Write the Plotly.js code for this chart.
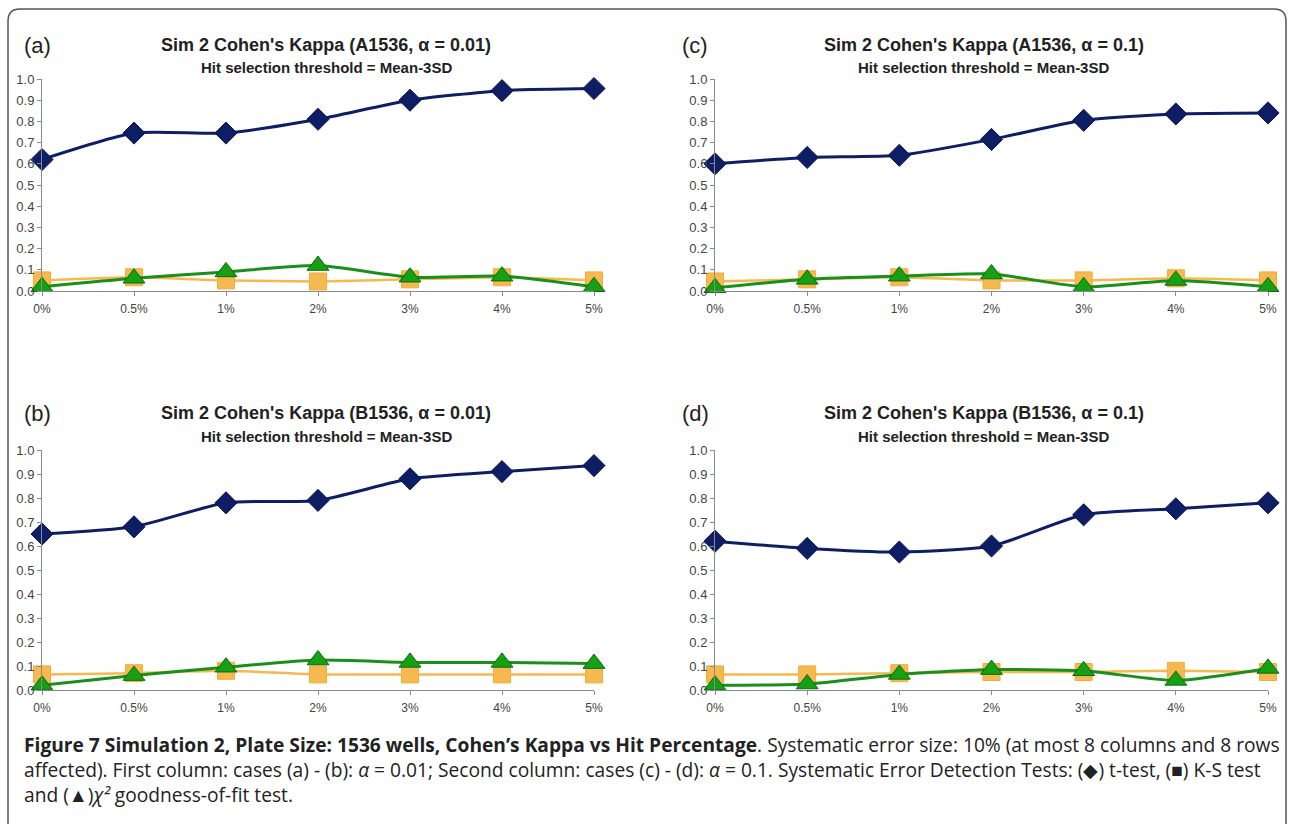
<!DOCTYPE html>
<html>
<head>
<meta charset="utf-8">
<script src="https://cdn.plot.ly/plotly-3.0.1.min.js"></script>
<style>html,body{margin:0;padding:0;background:#fff;}#chart{width:1293px;height:824px;}</style>
</head>
<body>
<div id="chart"></div>
<script>
// ---- data ----
const categories = ["0%", "0.5%", "1%", "2%", "3%", "4%", "5%"];
const yTickVals = [0, 0.1, 0.2, 0.3, 0.4, 0.5, 0.6, 0.7, 0.8, 0.9, 1.0];

// panel (a): A1536, alpha = 0.01
const a_tTest  = [0.62, 0.745, 0.745, 0.81, 0.90, 0.945, 0.955];
const a_ksTest = [0.05, 0.065, 0.05, 0.045, 0.055, 0.065, 0.05];
const a_chi2   = [0.02, 0.06, 0.09, 0.12, 0.065, 0.07, 0.02];
// panel (b): B1536, alpha = 0.01
const b_tTest  = [0.65, 0.68, 0.78, 0.79, 0.88, 0.91, 0.935];
const b_ksTest = [0.065, 0.07, 0.08, 0.065, 0.065, 0.065, 0.065];
const b_chi2   = [0.02, 0.06, 0.095, 0.125, 0.115, 0.115, 0.11];
// panel (c): A1536, alpha = 0.1
const c_tTest  = [0.60, 0.63, 0.64, 0.715, 0.805, 0.835, 0.84];
const c_ksTest = [0.045, 0.055, 0.065, 0.05, 0.05, 0.06, 0.05];
const c_chi2   = [0.015, 0.055, 0.07, 0.08, 0.02, 0.05, 0.02];
// panel (d): B1536, alpha = 0.1
const d_tTest  = [0.62, 0.59, 0.575, 0.60, 0.73, 0.755, 0.78];
const d_ksTest = [0.065, 0.065, 0.07, 0.075, 0.075, 0.08, 0.075];
const d_chi2   = [0.02, 0.025, 0.065, 0.085, 0.08, 0.04, 0.09];

const panelLabels = ["(a)", "(b)", "(c)", "(d)"];
const panelTitles = [
  "Sim 2 Cohen's Kappa (A1536, \u03b1 = 0.01)",
  "Sim 2 Cohen's Kappa (B1536, \u03b1 = 0.01)",
  "Sim 2 Cohen's Kappa (A1536, \u03b1 = 0.1)",
  "Sim 2 Cohen's Kappa (B1536, \u03b1 = 0.1)"
];
const panelSubtitle = "Hit selection threshold = Mean-3SD";
const captionLines = [
  "<b>Figure 7 Simulation 2, Plate Size: 1536 wells, Cohen\u2019s Kappa vs Hit Percentage</b>. Systematic error size: 10% (at most 8 columns and 8 rows",
  "affected). First column: cases (a) - (b): <i>\u03b1</i> = 0.01; Second column: cases (c) - (d): <i>\u03b1</i> = 0.1. Systematic Error Detection Tests: (\u25c6) t-test, (\u25a0) K-S test",
  "and (\u25b2)<i>\u03c7\u00b2</i> goodness-of-fit test."
];

// ---- layout geometry (pixels) ----
const W = 1293, H = 824;
const px = v => v / W;
const py = v => 1 - v / H;
const colX = [[42, 594], [715, 1268]];
const rowY = [[79, 291], [450, 690]];
const panelPos = [[0, 0], [0, 1], [1, 0], [1, 1]];
const panelData = [
  [a_tTest, a_ksTest, a_chi2],
  [b_tTest, b_ksTest, b_chi2],
  [c_tTest, c_ksTest, c_chi2],
  [d_tTest, d_ksTest, d_chi2]
];

const BLUE = "#0e1e64", ORANGE = "#f5b94f", GREEN = "#16a016", GREEN_DK = "#0b6b0b";
const AX_FONT = "Arial, 'Liberation Sans', sans-serif";
const traces = [];
const layout = {
  width: W, height: H,
  margin: {l: 0, r: 0, t: 0, b: 0},
  paper_bgcolor: "#ffffff", plot_bgcolor: "rgba(0,0,0,0)",
  showlegend: false,
  font: {family: AX_FONT, color: "#333"},
  annotations: [], shapes: []
};

panelData.forEach((series, i) => {
  const [c, r] = panelPos[i];
  const n = i + 1;
  const xa = n === 1 ? "x" : "x" + n, ya = n === 1 ? "y" : "y" + n;
  const xk = n === 1 ? "xaxis" : "xaxis" + n, yk = n === 1 ? "yaxis" : "yaxis" + n;
  layout[xk] = {
    domain: [px(colX[c][0]), px(colX[c][1])], anchor: ya,
    type: "category", range: [0, categories.length - 1],
    showline: true, linecolor: "#8a8a8a", linewidth: 1,
    ticks: "outside", ticklen: 4, tickcolor: "#8a8a8a", ticklabelstandoff: 3,
    showgrid: false, zeroline: false,
    tickfont: {size: 12, color: "#444", family: AX_FONT},
    fixedrange: true
  };
  layout[yk] = {
    domain: [py(rowY[r][1]), py(rowY[r][0])], anchor: xa,
    range: [0, 1], tickvals: yTickVals, tickformat: ".1f",
    showline: true, linecolor: "#8a8a8a", linewidth: 1,
    ticks: "outside", ticklen: 4, tickcolor: "#8a8a8a",
    showgrid: false, zeroline: false,
    tickfont: {size: 13, color: "#444", family: AX_FONT},
    fixedrange: true
  };
  traces.push({
    x: categories, y: series[1], xaxis: xa, yaxis: ya, type: "scatter", mode: "lines+markers",
    cliponaxis: false, line: {color: ORANGE, width: 2.5, shape: "spline", smoothing: 0.5},
    marker: {symbol: "square", size: 17, color: ORANGE, line: {color: "#f0ad3c", width: 1}}
  });
  traces.push({
    x: categories, y: series[2], xaxis: xa, yaxis: ya, type: "scatter", mode: "lines+markers",
    cliponaxis: false, line: {color: "#1b8f1b", width: 3, shape: "spline", smoothing: 0.6},
    marker: {symbol: "triangle-up", size: 19, color: GREEN, line: {color: GREEN_DK, width: 1}}
  });
  traces.push({
    x: categories, y: series[0], xaxis: xa, yaxis: ya, type: "scatter", mode: "lines+markers",
    cliponaxis: false, line: {color: BLUE, width: 3, shape: "spline", smoothing: 0.6},
    marker: {symbol: "diamond", size: 17, color: BLUE, line: {color: "#0a1550", width: 1}}
  });
  const titleCx = (colX[c][0] + colX[c][1]) / 2 + (c === 0 ? 8 : -8);
  const titleY = r === 0 ? 45 : 413;
  layout.annotations.push({
    xref: "paper", yref: "paper", x: px(c === 0 ? 22 : 680), y: py(titleY),
    xanchor: "left", yanchor: "middle", showarrow: false,
    text: panelLabels[i], font: {size: 22, color: "#222", family: AX_FONT}
  });
  layout.annotations.push({
    xref: "paper", yref: "paper", x: px(titleCx), y: py(titleY),
    xanchor: "center", yanchor: "middle", showarrow: false,
    text: "<b>" + panelTitles[i] + "</b>", font: {size: 18, color: "#222", family: AX_FONT}
  });
  layout.annotations.push({
    xref: "paper", yref: "paper", x: px(titleCx), y: py(titleY + 23),
    xanchor: "center", yanchor: "middle", showarrow: false,
    text: "<b>" + panelSubtitle + "</b>", font: {size: 15, color: "#222", family: AX_FONT}
  });
});

// caption (one block, three lines)
layout.annotations.push({
  xref: "paper", yref: "paper", x: px(22), y: py(729),
  xanchor: "left", yanchor: "top", showarrow: false, align: "left",
  text: captionLines.join("<br>"),
  font: {size: 19.2, color: "#222", family: "'Open Sans', 'Noto Sans', sans-serif"}
});

// outer rounded frame
const fx0 = 8, fy0 = 9, fx1 = 1286, fy1 = 840, rr = 12;
const P = (x, y) => px(x).toFixed(5) + "," + py(y).toFixed(5);
layout.shapes.push({
  type: "path", xref: "paper", yref: "paper",
  path: "M" + P(fx0, fy1) + " L" + P(fx0, fy0 + rr) + " Q" + P(fx0, fy0) + " " + P(fx0 + rr, fy0) +
        " L" + P(fx1 - rr, fy0) + " Q" + P(fx1, fy0) + " " + P(fx1, fy0 + rr) + " L" + P(fx1, fy1),
  line: {color: "#555", width: 1.5}
});

Plotly.newPlot("chart", traces, layout, {staticPlot: true, displayModeBar: false});
</script>
</body>
</html>
